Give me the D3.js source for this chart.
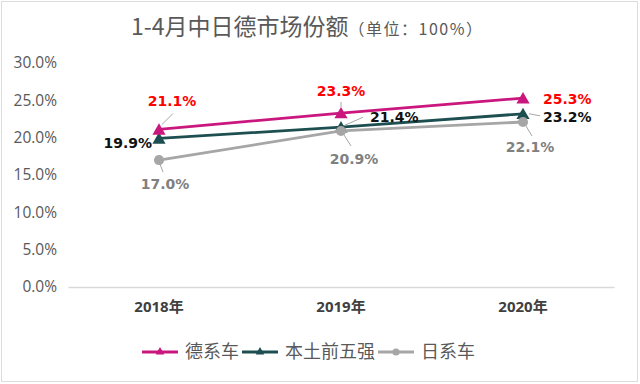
<!DOCTYPE html>
<html>
<head>
<meta charset="utf-8">
<script src="https://cdn.jsdelivr.net/npm/d3@7"></script>
<style>
  body { margin: 0; background: #fff; }
  svg { display: block; }
</style>
</head>
<body>
<div id="chart"></div>
<script>
// data
const years = ["2018年", "2019年", "2020年"];
const german = [0.211, 0.233, 0.253];
const domestic = [0.199, 0.214, 0.232];
const japanese = [0.170, 0.209, 0.221];
const yTicks = [0, 0.05, 0.10, 0.15, 0.20, 0.25, 0.30];

const width = 640, height = 384;
const svg = d3.select("#chart").append("svg")
  .attr("width", width)
  .attr("height", height);

// frame
svg.append("rect")
  .attr("x", 1.5).attr("y", 1.5)
  .attr("width", width - 4).attr("height", height - 4)
  .attr("fill", "none")
  .attr("stroke", "#dcdcdc");

const x = d3.scaleBand().domain(years).range([68, 614]);
const y = d3.scaleLinear().domain([0, 0.30]).range([287, 63]);
const cx = d => x(d) + x.bandwidth() / 2;

// title
const title = svg.append("text")
  .attr("x", 131).attr("y", 35)
  .attr("fill", "#595959")
  .attr("font-family", "'Noto Sans CJK SC', sans-serif");
title.append("tspan").attr("font-size", 23).text("1-4月中日德市场份额");
title.append("tspan").attr("font-size", 16).attr("letter-spacing", 1.5).text("（单位：100%）");

// y axis labels
svg.append("g").selectAll("text")
  .data(yTicks)
  .enter().append("text")
  .attr("x", 57)
  .attr("y", d => y(d))
  .attr("dy", "0.35em")
  .attr("text-anchor", "end")
  .attr("font-family", "'Open Sans', sans-serif")
  .attr("font-size", 15.5)
  .attr("fill", "#595959")
  .text(d => d3.format(".1%")(d));

// x axis
const xAxis = svg.append("g")
  .attr("transform", "translate(0," + y(0) + ")")
  .call(d3.axisBottom(x).tickSize(0).tickPadding(14));
xAxis.select(".domain").attr("stroke", "#d9d9d9").attr("stroke-width", 1.5);
xAxis.selectAll("text")
  .attr("font-family", "'Open Sans', 'Noto Sans CJK SC', sans-serif")
  .attr("font-size", 15)
  .attr("font-weight", "bold")
  .attr("fill", "#404040");

// series styles and label offsets
const series = [
  { name: "本土前五强", values: domestic, color: "#1d4e50", symbol: d3.symbolTriangle,
    labelColor: "#111", anchor: ["end", "start", "start"],
    off: [[-7, 10], [29, -5], [20, 8]],
    lead: [null, [[4, -2], [22, -10]], [[6, 0], [17, 2]]] },
  { name: "德系车", values: german, color: "#c9177e", symbol: d3.symbolTriangle,
    labelColor: "#ff0000", anchor: ["middle", "middle", "start"],
    off: [[13, -23], [0, -17], [20, 6]],
    lead: [[[3, -5], [14, -16]], [[0, -6], [0, -11]], null] },
  { name: "日系车", values: japanese, color: "#a6a6a6", symbol: d3.symbolCircle,
    labelColor: "#808080", anchor: ["middle", "middle", "middle"],
    off: [[6, 29], [13, 33], [7, 30]],
    lead: [[[1, 4], [4, 12]], [[3, 4], [10, 15]], [[3, 4], [9, 14]]] }
];

const line = d3.line()
  .x((d, i) => cx(years[i]))
  .y(d => y(d));

series.forEach(s => {
  svg.append("path")
    .datum(s.values)
    .attr("fill", "none")
    .attr("stroke", s.color)
    .attr("stroke-width", 2.8)
    .attr("d", line);

  svg.append("g").selectAll("path")
    .data(s.values)
    .enter().append("path")
    .attr("transform", (d, i) => "translate(" + cx(years[i]) + "," + (y(d) + (s.symbol === d3.symbolTriangle ? 1.5 : 0)) + ")")
    .attr("d", d3.symbol().type(s.symbol).size(s.symbol === d3.symbolTriangle ? 75 : 80))
    .attr("fill", s.color);
});

// leader lines and labels on top
series.forEach(s => {
  s.values.forEach((v, i) => {
    const px = cx(years[i]), py = y(v);
    if (s.lead[i]) {
      svg.append("line")
        .attr("x1", px + s.lead[i][0][0]).attr("y1", py + s.lead[i][0][1])
        .attr("x2", px + s.lead[i][1][0]).attr("y2", py + s.lead[i][1][1])
        .attr("stroke", "#a6a6a6")
        .attr("stroke-width", 1);
    }
    svg.append("text")
      .attr("x", px + s.off[i][0])
      .attr("y", py + s.off[i][1])
      .attr("text-anchor", s.anchor[i])
      .attr("font-family", "'DejaVu Sans', sans-serif")
      .attr("font-size", 14)
      .attr("font-weight", "bold")
      .attr("fill", s.labelColor)
      .text(d3.format(".1%")(v));
  });
});

// legend
const legendOrder = [series[1], series[0], series[2]];
const legend = svg.append("g")
  .attr("transform", "translate(142,352)");
let lx = 0;
legendOrder.forEach(s => {
  const g = legend.append("g").attr("transform", "translate(" + lx + ",0)");
  g.append("line")
    .attr("x1", 0).attr("x2", 36)
    .attr("stroke", s.color)
    .attr("stroke-width", 2.8);
  g.append("path")
    .attr("transform", "translate(18,0)")
    .attr("d", d3.symbol().type(s.symbol).size(s.symbol === d3.symbolTriangle ? 32 : 40))
    .attr("fill", s.color);
  const t = g.append("text")
    .attr("x", 43)
    .attr("dy", "0.36em")
    .attr("font-family", "'Noto Sans CJK SC', sans-serif")
    .attr("font-size", 18)
    .attr("fill", "#595959")
    .text(s.name);
  lx += 43 + t.node().getComputedTextLength() + 3;
});
</script>
</body>
</html>
